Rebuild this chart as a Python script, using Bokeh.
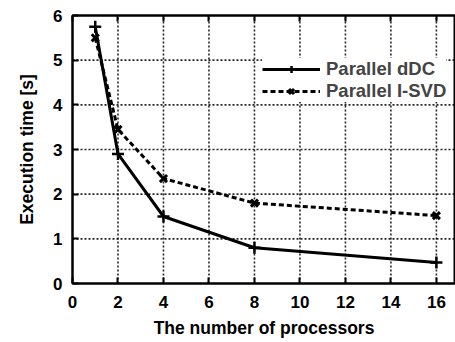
from bokeh.plotting import figure
from bokeh.models import Range1d, LinearAxis, Legend, LegendItem, FixedTicker
from bokeh.embed import file_html
from bokeh.resources import INLINE

processors = [1, 2, 4, 8, 16]
ddc_time = [5.75, 2.9, 1.5, 0.8, 0.47]
isvd_time = [5.5, 3.45, 2.35, 1.8, 1.52]
x_ticks = [0, 2, 4, 6, 8, 10, 12, 14, 16]
y_ticks = [0, 1, 2, 3, 4, 5, 6]

FONT = "Liberation Sans"
X_END = 16.84

p = figure(width=455, height=342, output_backend="svg", toolbar_location=None,
           x_range=Range1d(0, X_END), y_range=Range1d(y_ticks[0], y_ticks[-1]),
           min_border_left=72, min_border_right=0, min_border_top=15, min_border_bottom=59)
p.outline_line_color = "black"
p.outline_line_width = 2
p.xgrid.visible = False
p.ygrid.visible = False

for ax in (p.xaxis[0], p.yaxis[0]):
    ax.axis_line_width = 2
    ax.major_tick_in = 6
    ax.major_tick_out = 0
    ax.minor_tick_line_color = None
    ax.major_tick_line_width = 2
    ax.major_label_text_font = FONT
    ax.major_label_text_font_style = "bold"
    ax.major_label_text_font_size = "17px"
    ax.major_label_text_color = "black"
    ax.axis_label_text_font = FONT
    ax.axis_label_text_font_style = "bold"
    ax.axis_label_text_font_size = "17.5px"
    ax.axis_label_text_color = "black"

p.xaxis.ticker = FixedTicker(ticks=x_ticks)
p.yaxis.ticker = FixedTicker(ticks=y_ticks)
p.xaxis.axis_label = "The number of processors"
p.yaxis.axis_label = "Execution time [s]"
p.xaxis.major_label_standoff = 12
p.xaxis.axis_label_standoff = 7
p.yaxis.major_label_standoff = 10
p.yaxis.axis_label_standoff = 13

top = LinearAxis(ticker=FixedTicker(ticks=x_ticks), major_label_text_color=None,
                 major_label_text_font_size="1px", major_label_standoff=0,
                 major_tick_in=6, major_tick_out=0, major_tick_line_width=2,
                 minor_tick_line_color=None, axis_line_width=2)
p.add_layout(top, "above")

# dotted grid lines at the tick positions
grid_xs = [[t, t] for t in x_ticks[1:]] + [[0, X_END] for t in y_ticks[1:-1]]
grid_ys = [[y_ticks[0], y_ticks[-1]] for t in x_ticks[1:]] + [[t, t] for t in y_ticks[1:-1]]
p.multi_line(grid_xs, grid_ys, line_color="black", line_dash="2 2", line_width=1.6,
             line_alpha=0.85)

l1 = p.line(processors, ddc_time, line_color="black", line_width=3)
s1 = p.scatter(processors, ddc_time, marker="cross", size=12, line_color="black", line_width=2.5)
l2 = p.line(processors, isvd_time, line_color="black", line_width=3, line_dash="5 3")
s2 = p.scatter(processors, isvd_time, marker="x", size=10, line_color="black", line_width=3)

legend = Legend(items=[LegendItem(label="Parallel dDC", renderers=[l1, s1]),
                       LegendItem(label="Parallel I-SVD", renderers=[l2, s2])],
                location=(190, 181), glyph_width=58, glyph_height=18, label_height=18,
                spacing=-4, label_standoff=6,
                label_text_font=FONT, label_text_font_style="bold",
                label_text_font_size="18.5px", background_fill_color="white",
                background_fill_alpha=1, border_line_color=None, padding=0, margin=0)
p.add_layout(legend, "center")

open("out.html", "w").write(file_html(p, INLINE))
